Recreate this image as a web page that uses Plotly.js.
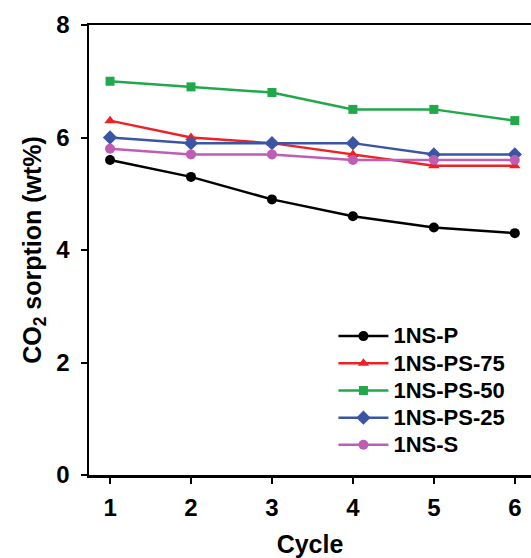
<!DOCTYPE html>
<html>
<head>
<meta charset="utf-8">
<script src="https://cdn.plot.ly/plotly-3.0.1.min.js"></script>
<style>html,body{margin:0;padding:0;background:#fff;} #chart{width:531px;height:558px;}</style>
</head>
<body>
<div id="chart"></div>
<script>
const cycles = [1, 2, 3, 4, 5, 6];
const seriesNames = ["1NS-P", "1NS-PS-75", "1NS-PS-50", "1NS-PS-25", "1NS-S"];
const ns_p    = [5.6, 5.3, 4.9, 4.6, 4.4, 4.3];
const ns_ps75 = [6.3, 6.0, 5.9, 5.7, 5.5, 5.5];
const ns_ps50 = [7.0, 6.9, 6.8, 6.5, 6.5, 6.3];
const ns_ps25 = [6.0, 5.9, 5.9, 5.9, 5.7, 5.7];
const ns_s    = [5.8, 5.7, 5.7, 5.6, 5.6, 5.6];
const yTicks = [0, 2, 4, 6, 8];

const values = [ns_p, ns_ps75, ns_ps50, ns_ps25, ns_s];
const colors = ["#000000", "#ee2124", "#20a84a", "#3a55a5", "#bf5db3"];
const symbols = ["circle", "triangle-up", "square", "diamond", "circle"];
const sizes = [10, 10, 9, 11, 10];

const traces = values.map((v, i) => ({
  x: cycles, y: v, type: "scatter", mode: "lines+markers",
  name: '<span style="font-size:22px">' + seriesNames[i] + '</span>',
  line: {color: colors[i], width: 2.5},
  marker: {color: colors[i], symbol: symbols[i], size: sizes[i]},
  cliponaxis: false
}));

const fontFam = "Liberation Sans, Arial, sans-serif";
const layout = {
  width: 531, height: 558,
  margin: {l: 89, r: 0, t: 25, b: 83},
  paper_bgcolor: "#fff", plot_bgcolor: "#fff",
  font: {family: fontFam, color: "#000"},
  showlegend: true,
  legend: {
    x: 0.553, y: 0.350, xanchor: "left", yanchor: "top",
    font: {size: 18.6, family: fontFam, color: "#000", weight: "bold"},
    bgcolor: "rgba(0,0,0,0)", itemwidth: 50, tracegroupgap: 0
  },
  xaxis: {
    range: [0.74, 6.2], tickvals: cycles, ticktext: cycles.map(String),
    showline: true, linecolor: "#000", linewidth: 2.5, mirror: true,
    ticks: "outside", ticklen: 6, tickwidth: 2, tickcolor: "#000",
    showgrid: false, zeroline: false, ticklabelstandoff: 4,
    tickfont: {size: 24, family: fontFam, weight: "bold"},
    title: {text: "Cycle", font: {size: 25, family: fontFam, weight: "bold"}, standoff: 16}
  },
  yaxis: {
    range: [0, 8], tickvals: yTicks, ticktext: yTicks.map(String),
    showline: true, linecolor: "#000", linewidth: 2.5, mirror: false,
    ticks: "outside", ticklen: 6, tickwidth: 2, tickcolor: "#000",
    showgrid: false, zeroline: false, ticklabelstandoff: 6,
    tickfont: {size: 24, family: fontFam, weight: "bold"},
    title: {text: "CO<sub>2</sub> sorption (wt%)\u00a0\u00a0\u00a0", font: {size: 25, family: fontFam, weight: "bold"}, standoff: 8}
  }
};

Plotly.newPlot("chart", traces, layout, {staticPlot: true, displayModeBar: false});
</script>
</body>
</html>
